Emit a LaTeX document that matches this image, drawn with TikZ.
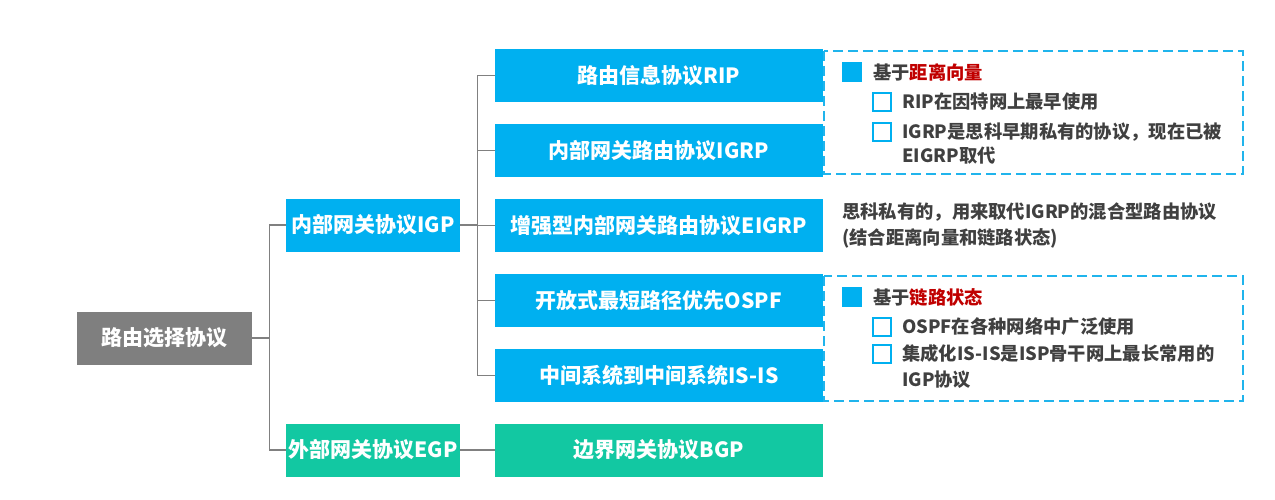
\documentclass[tikz,border=0pt]{standalone}
\usepackage{fontspec}
\usepackage{xcolor}
\newfontfamily\cjk{Noto Sans CJK SC}
\definecolor{skyblue}{HTML}{00B0F0}
\definecolor{mint}{HTML}{12C8A2}
\definecolor{rootgray}{HTML}{7F7F7F}
\definecolor{linegray}{HTML}{808080}
\definecolor{notegray}{HTML}{404040}
\definecolor{keyred}{HTML}{C00000}
\definecolor{dashblue}{HTML}{20B4EC}

\begin{document}
\begin{tikzpicture}[x=1pt,y=-1pt,
  box/.style={minimum height=53pt,inner sep=0pt,text=white,font=\cjk\bfseries\fontsize{21}{24}\selectfont},
  rootbox/.style={box,fill=rootgray,minimum width=175pt},
  igpbox/.style={box,fill=skyblue},
  egpbox/.style={box,fill=mint},
  link/.style={draw=linegray,line width=1.3pt},
  note/.style={anchor=west,inner sep=0pt,text=notegray,font=\cjk\bfseries\fontsize{18.3}{24}\selectfont},
  dashbox/.style={draw=dashblue,line width=2.8pt,dash pattern=on 10pt off 5pt},
  fullmark/.style={fill=skyblue,minimum size=20pt,inner sep=0pt},
  openmark/.style={draw=skyblue,line width=2pt,minimum size=18pt,inner sep=0pt}]
\useasboundingbox (0,0) rectangle (1275,500);
% tree boxes
\node[rootbox] (root) at (164.5,338) {路由选择协议};
\node[igpbox,minimum width=174pt] (igp) at (373,225) {内部网关协议IGP};
\node[egpbox,minimum width=174pt] (egp) at (373,450) {外部网关协议EGP};
\node[igpbox,minimum width=328pt] (rip) at (659,75.5) {路由信息协议RIP};
\node[igpbox,minimum width=328pt] (igrp) at (659,150.5) {内部网关路由协议IGRP};
\node[igpbox,minimum width=328pt] (eigrp) at (659,225.5) {增强型内部网关路由协议EIGRP};
\node[igpbox,minimum width=328pt] (ospf) at (659,300.5) {开放式最短路径优先OSPF};
\node[igpbox,minimum width=328pt] (isis) at (659,375.5) {中间系统到中间系统IS-IS};
\node[egpbox,minimum width=328pt] (bgp) at (659,450) {边界网关协议BGP};
% connectors
\draw[link] (root.east) -- ++(17,0) coordinate (fork) |- (igp.west);
\draw[link] (fork) |- (egp.west);
\foreach \n in {rip,igrp,eigrp,ospf,isis}
  \draw[link] (igp.east) -- ++(17,0) |- (\n.west);
\draw[link] (egp.east) -- (bgp.west);
% distance vector notes
\draw[dashbox] (824,51) rectangle (1243,174);
\node[fullmark] (dvmark) at (852,72) {};
\node[note] (dvtext) at (873,72) {基于\textcolor{keyred}{距离向量}};
\node[openmark] (ripmark) at (882,102) {};
\node[note] (riptext) at (902,102) {RIP在因特网上最早使用};
\node[openmark] (igrpmark) at (882,132) {};
\node[note] (igrptext) at (902,132) {IGRP是思科早期私有的协议，现在已被};
\node[note] (igrpmore) at (902,156) {EIGRP取代};
% eigrp note
\node[note] (eigrptext) at (842,212) {思科私有的，用来取代IGRP的混合型路由协议};
\node[note] (eigrpmore) at (842,238) {(结合距离向量和链路状态)};
% link state notes
\draw[dashbox] (824,276) rectangle (1243,401);
\node[fullmark] (lsmark) at (852,297) {};
\node[note] (lstext) at (873,297) {基于\textcolor{keyred}{链路状态}};
\node[openmark] (ospfmark) at (882,327) {};
\node[note] (ospftext) at (902,327) {OSPF在各种网络中广泛使用};
\node[openmark] (isismark) at (882,354) {};
\node[note] (isistext) at (902,354) {集成化IS-IS是ISP骨干网上最长常用的};
\node[note] (isismore) at (902,380) {IGP协议};
\end{tikzpicture}
\end{document}
